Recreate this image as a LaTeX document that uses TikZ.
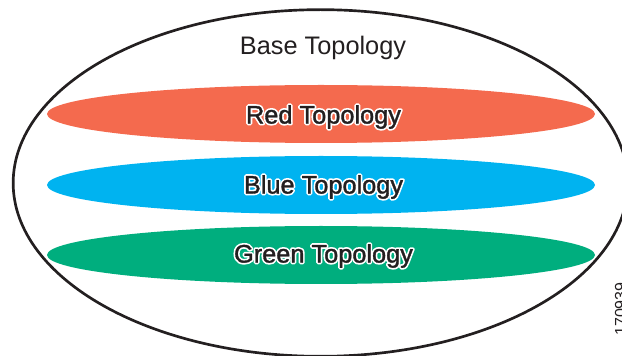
\documentclass[tikz,border=0pt]{standalone}
\usepackage{fontspec}
\setmainfont{Liberation Sans}
\usetikzlibrary{shapes.geometric}
\definecolor{redtopo}{HTML}{F46A4E}
\definecolor{bluetopo}{HTML}{00B3F0}
\definecolor{greentopo}{HTML}{00AE7E}
\definecolor{inktopo}{HTML}{231F20}
\newcommand\halotext[1]{\leavevmode\rlap{\special{pdf:code 1 1 1 RG 2.8 w 1 j 2 Tr}#1\special{pdf:code 0 Tr}}\special{pdf:code 0.137 0.122 0.125 RG 0.25 w 1 j 2 Tr}#1\special{pdf:code 0 Tr}}
\tikzset{
  x=0.75pt,y=-0.75pt,
  band/.style={ellipse,minimum width=411pt,minimum height=43.5pt,inner sep=0pt,draw=none},
  outer/.style={ellipse,draw=inktopo,line width=2pt,minimum width=461pt,minimum height=260pt,inner sep=0pt},
  bandlabel/.style={font=\fontsize{19pt}{21pt}\selectfont,text=inktopo},
}
\begin{document}
\begin{tikzpicture}
\useasboundingbox (0,0) rectangle (622,356);
\clip (0,0) rectangle (622,356);
\node[outer] (base) at (320.5,183) {};
\node[bandlabel] (baselabel) at (323,47.5) {Base Topology};
\node[band,fill=redtopo] (red) at (321,114) {};
\node[band,fill=bluetopo] (blue) at (321,185) {};
\node[band,fill=greentopo] (green) at (321,255) {};
\node[bandlabel] (redlabel) at (323.5,117) {\halotext{Red Topology}};
\node[bandlabel] (bluelabel) at (323.5,187) {\halotext{Blue Topology}};
\node[bandlabel] (greenlabel) at (323.5,256) {\halotext{Green Topology}};
\node[rotate=90,font=\fontsize{12pt}{14pt}\selectfont,text=inktopo,anchor=base west,inner sep=0pt] (code) at (626,336) {170939};
\end{tikzpicture}
\end{document}
